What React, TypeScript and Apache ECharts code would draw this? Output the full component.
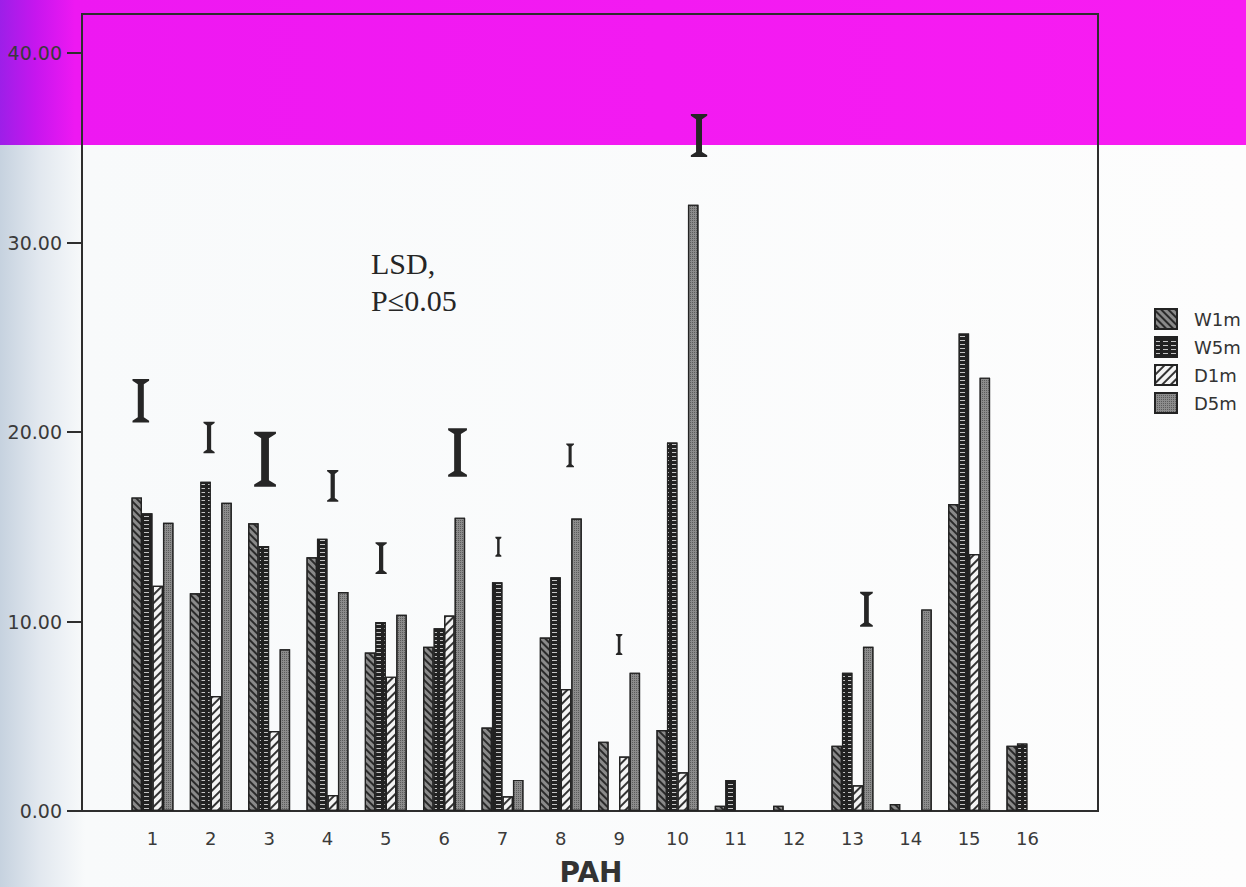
import React, { useEffect, useRef } from 'react';
import * as echarts from 'echarts';

// ---- data ----
const categories = ['1', '2', '3', '4', '5', '6', '7', '8', '9', '10', '11', '12', '13', '14', '15', '16'];
const seriesNames = ['W1m', 'W5m', 'D1m', 'D5m'];
const w1m = [16.55, 11.49, 15.18, 13.39, 8.36, 8.67, 4.41, 9.15, 3.66, 4.27, 0.28, 0.28, 3.45, 0.37, 16.2, 3.45];
const w5m = [15.71, 17.38, 13.98, 14.37, 9.97, 9.64, 12.07, 12.33, null, 19.45, 1.64, null, 7.3, null, 25.2, 3.56];
const d1m = [11.89, 6.07, 4.22, 0.84, 7.09, 10.32, 0.78, 6.44, 2.87, 2.04, null, null, 1.36, null, 13.56, null];
const d5m = [15.21, 16.27, 8.53, 11.56, 10.36, 15.48, 1.64, 15.44, 7.3, 32.0, null, null, 8.67, 10.64, 22.87, null];
const yTicks = [0, 10, 20, 30, 40];
// LSD bars: position along PAH axis, low and high value
const lsdPAH = [0.8, 1.97, 2.93, 4.09, 4.92, 6.23, 6.93, 8.16, 9.0, 10.37, 13.24];
const lsdLow = [20.5, 18.88, 17.11, 16.32, 12.51, 17.64, 13.42, 18.14, 8.23, 34.51, 9.73];
const lsdHigh = [22.8, 20.54, 20.02, 17.99, 14.18, 20.2, 14.47, 19.4, 9.34, 36.78, 11.57];
const noteLines = ['LSD,', 'P\u22640.05'];
const xName = 'PAH';

const sans = "'DejaVu Sans', 'Liberation Sans', Arial, sans-serif";
const serif = "'Liberation Serif', 'Times New Roman', serif";

export default function App() {
  const ref = useRef<HTMLDivElement>(null);
  useEffect(() => {
    document.body.style.margin = '0';
    const chart = echarts.init(ref.current as HTMLDivElement, null, { renderer: 'svg' });
    const border = { borderColor: '#232323', borderWidth: 1.2 };
    const styles: any[] = [
      {
        color: '#8a8a8a',
        decal: { symbol: 'rect', symbolSize: 1, color: '#2a2a2a', dashArrayX: [1, 0], dashArrayY: [2, 3], rotation: Math.PI / 4 },
      },
      {
        color: '#222222',
        decal: { symbol: 'rect', symbolSize: 1, color: '#c4c4c4', dashArrayX: [5, 3], dashArrayY: [1, 3] },
      },
      {
        color: '#f4f4f4',
        decal: { symbol: 'rect', symbolSize: 1, color: '#333333', dashArrayX: [1, 0], dashArrayY: [1.3, 4], rotation: -Math.PI / 4 },
      },
      {
        color: '#8c8c8c',
        decal: { symbol: 'rect', symbolSize: 1, color: '#5c5c5c', dashArrayX: [1, 1], dashArrayY: [1, 1] },
      },
    ];
    const values = [w1m, w5m, d1m, d5m];
    const barSeries = seriesNames.map((name, i) => ({
      name,
      type: 'bar',
      data: values[i],
      barWidth: 10.5,
      barGap: '0%',
      itemStyle: { ...styles[i], ...border },
    }));

    const lsdSeries = {
      name: 'LSD',
      type: 'custom',
      xAxisIndex: 1,
      yAxisIndex: 0,
      data: lsdPAH.map((p, i) => [p, lsdLow[i], lsdHigh[i]]),
      renderItem: (params: any, api: any) => {
        const x = api.value(0);
        const top = api.coord([x, api.value(2)]);
        const bot = api.coord([x, api.value(1)]);
        const h = bot[1] - top[1];
        const W = Math.max(2.5, (0.45 * h - 3) / 2);
        const S = Math.max(0.9, (0.15 * h - 0.5) / 2);
        const t = Math.max(1.1, 0.04 * h);
        const b = 0.08 * h;
        const cx = top[0];
        const y0 = top[1];
        const y1 = bot[1];
        return {
          type: 'polygon',
          shape: {
            points: [
              [cx - W, y0], [cx + W, y0], [cx + W, y0 + t], [cx + S, y0 + t + b],
              [cx + S, y1 - t - b], [cx + W, y1 - t], [cx + W, y1], [cx - W, y1],
              [cx - W, y1 - t], [cx - S, y1 - t - b], [cx - S, y0 + t + b], [cx - W, y0 + t],
            ],
          },
          style: { fill: '#262626' },
        };
      },
    };

    const option: any = {
      animation: false,
      grid: { left: 123.3, top: 14, width: 933.3, height: 797 },
      xAxis: [
        {
          type: 'category',
          data: categories,
          axisLine: { lineStyle: { color: '#2e2e2e', width: 2 } },
          axisTick: { alignWithLabel: true, length: 12, lineStyle: { color: '#2e2e2e', width: 2 } },
          axisLabel: { fontSize: 18, color: '#3a3a3a', margin: 18, fontFamily: sans },
        },
        { type: 'value', show: false, min: 0.5, max: 16.5 },
      ],
      yAxis: {
        type: 'value',
        min: 0,
        max: 42.06,
        interval: 10,
        offset: 41.3,
        axisLine: { show: true, lineStyle: { color: '#2e2e2e', width: 2 } },
        axisTick: { show: true, length: 15, customValues: yTicks, lineStyle: { color: '#2e2e2e', width: 2 } },
        axisLabel: {
          customValues: yTicks,
          formatter: (v: number) => v.toFixed(2),
          margin: 20,
          fontSize: 19,
          color: '#3a3a3a',
          fontFamily: sans,
        },
        splitLine: { show: false },
      },
      legend: {
        data: seriesNames,
        orient: 'vertical',
        left: 1149,
        top: 303,
        itemWidth: 22,
        itemHeight: 20,
        itemGap: 6,
        icon: 'rect',
        textStyle: { fontSize: 18, color: '#333', fontFamily: sans, padding: [0, 0, 0, 12] },
      },
      series: [...barSeries, lsdSeries],
      graphic: [
        {
          type: 'rect',
          silent: true,
          shape: { x: 82, y: 14, width: 1016, height: 797 },
          style: { fill: 'none', stroke: '#2e2e2e', lineWidth: 2 },
        },
        {
          type: 'text',
          x: 371,
          y: 263,
          style: { text: noteLines[0], fontSize: 30, fontFamily: serif, fill: '#262626', textVerticalAlign: 'middle' },
        },
        {
          type: 'text',
          x: 371,
          y: 300,
          style: { text: noteLines[1], fontSize: 30, fontFamily: serif, fill: '#262626', textVerticalAlign: 'middle' },
        },
        {
          type: 'text',
          x: 591,
          y: 872,
          style: {
            text: xName,
            fontSize: 28,
            fontWeight: 'bold',
            fontFamily: sans,
            fill: '#333',
            textAlign: 'center',
            textVerticalAlign: 'middle',
          },
        },
      ],
    };
    chart.setOption(option);
    return () => chart.dispose();
  }, []);

  return (
    <div
      ref={ref}
      style={{
        position: 'fixed',
        left: 0,
        top: 0,
        width: 1246,
        height: 887,
        background:
          'linear-gradient(to right, #9d1fe8 0px, #c616ee 35px, #ee18f2 75px, #f81cf2 100%) top left / 100% 145px no-repeat, ' +
          'linear-gradient(to right, #c6d2df 0px, #e2e8ef 40px, #f8fafb 85px, #fdfdfd 100%)',
      }}
    />
  );
}
